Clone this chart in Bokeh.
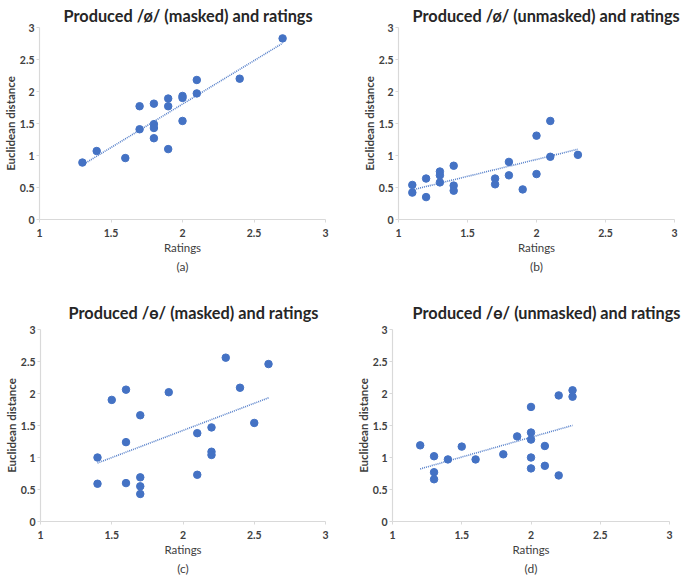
import numpy as np
from bokeh.plotting import figure
from bokeh.layouts import column, row
from bokeh.models import Title, FixedTicker, Range1d
from bokeh.embed import file_html
from bokeh.resources import INLINE

# Panel (a): Produced /ø/ (masked)
a_x = [1.3, 1.4, 1.6, 1.7, 1.7, 1.8, 1.8, 1.8, 1.8, 1.9, 1.9, 1.9, 2.0, 2.0, 2.0, 2.1, 2.1, 2.4, 2.7]
a_y = [0.89, 1.07, 0.96, 1.77, 1.41, 1.81, 1.49, 1.43, 1.27, 1.89, 1.77, 1.10, 1.93, 1.90, 1.54, 2.18, 1.97, 2.20, 2.83]

# Panel (b): Produced /ø/ (unmasked)
b_x = [1.1, 1.1, 1.2, 1.2, 1.3, 1.3, 1.3, 1.4, 1.4, 1.4, 1.7, 1.7, 1.8, 1.8, 1.9, 2.0, 2.0, 2.1, 2.1, 2.3]
b_y = [0.54, 0.42, 0.64, 0.35, 0.75, 0.69, 0.58, 0.84, 0.53, 0.45, 0.64, 0.55, 0.90, 0.69, 0.47, 1.31, 0.71, 1.54, 0.98, 1.01]

# Panel (c): Produced /ɵ/ (masked)
c_x = [1.4, 1.4, 1.5, 1.6, 1.6, 1.6, 1.7, 1.7, 1.7, 1.7, 1.9, 2.1, 2.1, 2.2, 2.2, 2.2, 2.3, 2.4, 2.5, 2.6]
c_y = [1.00, 0.59, 1.90, 2.06, 1.24, 0.60, 1.66, 0.69, 0.55, 0.43, 2.02, 1.38, 0.73, 1.47, 1.09, 1.04, 2.56, 2.09, 1.54, 2.46]

# Panel (d): Produced /ɵ/ (unmasked)
d_x = [1.2, 1.3, 1.3, 1.3, 1.4, 1.5, 1.6, 1.8, 1.9, 2.0, 2.0, 2.0, 2.0, 2.0, 2.1, 2.1, 2.2, 2.2, 2.3, 2.3]
d_y = [1.19, 1.02, 0.77, 0.66, 0.97, 1.17, 0.97, 1.05, 1.33, 1.79, 1.39, 1.28, 1.00, 0.83, 1.18, 0.87, 1.97, 0.72, 2.05, 1.95]

titles = ["Produced /ø/ (masked) and ratings",
          "Produced /ø/ (unmasked) and ratings",
          "Produced /ɵ/ (masked) and ratings",
          "Produced /ɵ/ (unmasked) and ratings"]
captions = ["(a)", "(b)", "(c)", "(d)"]
x_ticks = [1, 1.5, 2, 2.5, 3]
y_ticks = [0, 0.5, 1, 1.5, 2, 2.5, 3]

FONT = "Lato"
BLUE = "#4472C4"
AXIS = "#D9D9D9"
TXT = "#404040"


def make_panel(xs, ys, title, caption, width, height, borders, title_offset, title_standoff):
    left, right, top, bottom = borders
    p = figure(width=width, height=height, output_backend="svg", toolbar_location=None,
               x_range=Range1d(1, 3), y_range=Range1d(0, 3),
               min_border_left=left, min_border_right=right,
               min_border_top=top, min_border_bottom=bottom)
    p.title = None
    t = Title(text=title, align="left", text_font=FONT, text_font_size="16.3px",
              text_font_style="bold", text_color="#262626", offset=title_offset,
              standoff=title_standoff)
    p.add_layout(t, "above")
    cap = Title(text=caption, align="center", text_font=FONT, text_font_size="12px",
                text_font_style="normal", text_color=TXT, standoff=0)
    p.add_layout(cap, "below")
    p.outline_line_color = None
    p.grid.grid_line_color = None
    p.background_fill_color = "white"
    p.border_fill_color = "white"

    p.xaxis.ticker = FixedTicker(ticks=x_ticks)
    p.yaxis.ticker = FixedTicker(ticks=y_ticks)
    p.xaxis.axis_label = "Ratings"
    p.yaxis.axis_label = "Euclidean distance"
    for ax in (p.xaxis, p.yaxis):
        ax.axis_line_color = AXIS
        ax.axis_line_width = 1.2
        ax.major_tick_line_color = AXIS
        ax.major_tick_in = 0
        ax.major_tick_out = 3
        ax.minor_tick_line_color = None
        ax.major_label_text_font = FONT
        ax.major_label_text_font_size = "10.5px"
        ax.major_label_text_font_style = "bold"
        ax.major_label_text_color = TXT
        ax.axis_label_text_font = FONT
        ax.axis_label_text_font_size = "11.5px"
        ax.axis_label_text_color = TXT
    p.xaxis.axis_label_text_font_style = "normal"
    p.yaxis.axis_label_text_font_style = "bold"
    p.xaxis.major_label_standoff = 6
    p.xaxis.axis_label_standoff = 1
    p.yaxis.major_label_standoff = 2
    p.yaxis.axis_label_standoff = 0

    xa = np.array(xs)
    ya = np.array(ys)
    k, b = np.polyfit(xa, ya, 1)
    lx = [xa.min(), xa.max()]
    ly = [k * lx[0] + b, k * lx[1] + b]
    p.line(lx, ly, line_color=BLUE, line_width=1.6, line_dash="1 1", line_alpha=0.9)
    p.scatter(xs, ys, size=7.5, fill_color=BLUE, line_color=BLUE)
    return p


pa = make_panel(a_x, a_y, titles[0], captions[0], 342, 290, (39, 17, 27, 71), 24, 5)
pb = make_panel(b_x, b_y, titles[1], captions[1], 342, 290, (56, 10, 27, 71), 14, 5)
pc = make_panel(c_x, c_y, titles[2], captions[2], 336, 290, (40, 11, 39, 59), 28, 15)
pd = make_panel(d_x, d_y, titles[3], captions[3], 348, 290, (56, 15, 39, 59), 20, 15)

layout = column(row(pa, pb, spacing=0), row(pc, pd, spacing=0), spacing=0)
open("out.html", "w").write(file_html(layout, INLINE))
